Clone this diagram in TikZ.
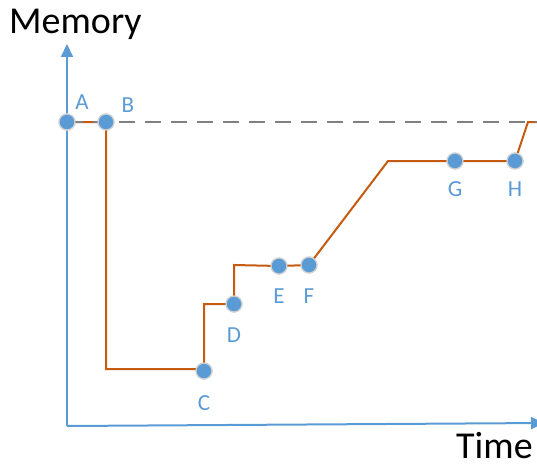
\documentclass[tikz,border=0pt]{standalone}
\usepackage{fontspec}
\setmainfont{Carlito}
\usetikzlibrary{arrows.meta}
\definecolor{axblue}{HTML}{5B9BD5}
\definecolor{curve}{HTML}{C55A11}
\definecolor{dashgrey}{HTML}{808080}
\tikzset{
  axis/.style={axblue, line width=2pt, -{Triangle[length=13pt,width=12pt]}},
  pt/.style={circle, fill=axblue, draw=gray!35, line width=1.2pt, minimum size=16pt, inner sep=0pt},
  ptlabel/.style={text=axblue, font=\fontsize{23}{23}\selectfont, inner sep=0pt},
  title/.style={font=\fontsize{38}{38}\selectfont, inner sep=0pt, anchor=base west},
  curveline/.style={curve, line width=2pt},
  dashline/.style={dashgrey, line width=2.5pt, dash pattern=on 16pt off 10pt}
}
\begin{document}
\begin{tikzpicture}[x=1pt,y=-1pt]
\useasboundingbox (0,0) rectangle (537,468);
% axes
\coordinate (O) at (67,426);
\coordinate (ytop) at (67,44);
\coordinate (xend) at (544,423);
\draw[axis] (O) -- (ytop);
\draw[axis] (O) -- (xend);
\node[title] (mem) at (9,34) {Memory};
\node[title] (time) at (456,458) {Time};
% points
\node[pt] (A) at (67,122) {};
\node[pt] (B) at (106,122) {};
\node[pt] (C) at (204,371) {};
\node[pt] (D) at (234,304) {};
\node[pt] (E) at (279,266) {};
\node[pt] (F) at (309,265) {};
\node[pt] (G) at (455,161) {};
\node[pt] (H) at (515,161) {};
\coordinate (b1) at (106,369);
\coordinate (c1) at (204,304);
\coordinate (d1) at (234,265);
\coordinate (f1) at (388,161);
\coordinate (h1) at (528,122);
\coordinate (rend) at (537,122);
\coordinate (dend) at (537,122);
\draw[curveline] (A.center) -- (B.center) -- (b1) -- (b1 -| C) -- (C.center) -- (c1) -- (D.center) -- (d1) -- (E.center) -- (F.center) -- (f1) -- (G.center) -- (H.center) -- (h1) -- (rend);
\draw[dashline] (A.center) -- (dend);
% redraw points on top
\foreach \p in {A,B,C,D,E,F,G,H}{
  \node[pt] at (\p) {};
}
% labels
\node[ptlabel] (lA) at (82,102) {A};
\node[ptlabel] (lB) at (128,105) {B};
\node[ptlabel] (lC) at (204,403) {C};
\node[ptlabel] (lD) at (234,335) {D};
\node[ptlabel] (lE) at (279,296) {E};
\node[ptlabel] (lF) at (309,296) {F};
\node[ptlabel] (lG) at (455,189) {G};
\node[ptlabel] (lH) at (515,189) {H};
\end{tikzpicture}
\end{document}
